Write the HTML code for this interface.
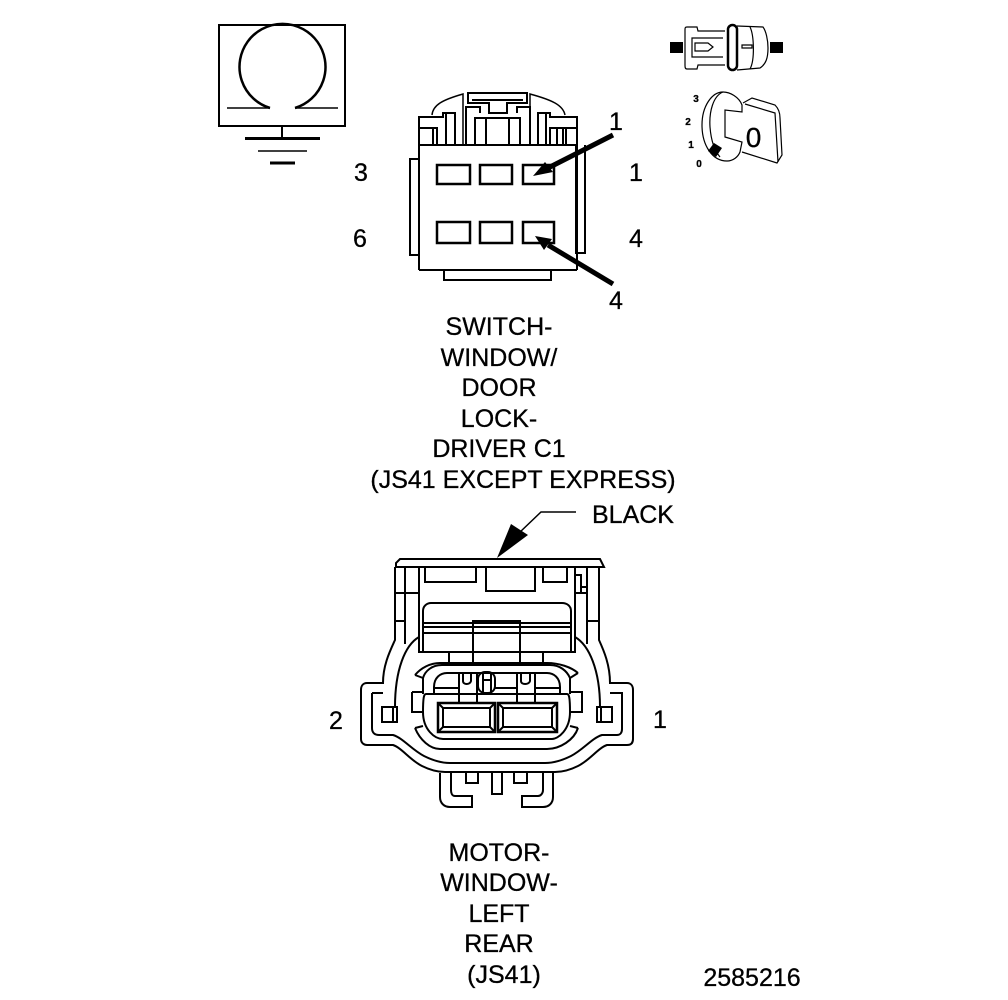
<!DOCTYPE html>
<html><head><meta charset="utf-8"><style>
html,body{margin:0;padding:0;background:#fff}
svg{display:block}
text{font-family:"Liberation Sans",sans-serif;fill:#000;stroke:#000;stroke-width:.3px}
</style></head><body>
<svg width="1008" height="1000" viewBox="0 0 1008 1000" xmlns="http://www.w3.org/2000/svg">
<rect width="1008" height="1000" fill="#fff"/>
<g fill="none" stroke="#000" stroke-width="2">
<!-- ground symbol -->
<rect x="219" y="25" width="126" height="101"/>
<path d="M270 108A43 43 0 1 1 295 108" stroke-width="2.500"/>
<path d="M227 108H270M295 108H338" stroke-width="1.500"/>
<path d="M282 126V138"/>
<path d="M245 138.500H320M270 163H295" stroke-width="3"/>
<path d="M258 151H307" stroke-width="1.500"/>

<!-- switch connector -->
<path d="M432 115C433 105 442 100 463 94V145M565 115C563 105 552 100 530 94V145" stroke-width="1.500"/>
<path d="M419 270V117H443V113H455V145M446 145V113M577 270V117H550V113H538V145M546 145V113"/>
<path d="M419 128H437V145M433 128V145M550 145V128H577M557 128V145M563 128V145M566 128V145"/>
<path d="M419 145H577"/>
<path d="M468 93H527V103H507V113H489V103H468ZM472 100H523M466 145V107H480V113M530 145V107H517V113"/>
<path d="M475 145V118H520V145M486 118V145M509 118V145"/>
<path d="M419 270H577M444 270V280H551V270M419 159H410V255H419M576 145V253H585V145"/>
<path d="M437 165H470V184H437ZM480 165H512V184H480ZM523 165H554V184H523ZM437 222H470V243H437ZM480 222H512V243H480ZM523 222H554V243H523Z" stroke-width="2.500"/>
</g>
<path d="M613 135L548 168" stroke="#000" stroke-width="5" fill="none"/>
<path d="M533 176L545 162L553 172Z" fill="#000"/>
<path d="M613 284L548 245" stroke="#000" stroke-width="5" fill="none"/>
<path d="M535 236L552 239L544 250Z" fill="#000"/>

<!-- key icons -->
<g fill="none" stroke="#000" stroke-width="1.200">
<path d="M725 31H698L697 27H687C685 27 685 28 685 30V65C685 67 685 69 687 69H697L698 65H725"/>
<path d="M723 38H692V57H723M695 43H708L713 47L708 51H695Z"/>
<path d="M737 26L763 27C766 31 768 40 768 48C768 58 766 64 760 68L737 70"/>
<path d="M742 45H752V48H742Z"/>
<path d="M750 27C754 35 755 60 750 69"/>
<rect x="728" y="25" width="9" height="45" rx="4.500" stroke-width="2.500"/>
<path d="M742 105C739 97 730 92 723 92C712 92 702 106 702 125C702 145 712 161 727 161C733 161 738 157 740 152L742 142L725 137V110L742 112Z"/>
<path d="M723 92C713 96 709 112 710 127C711 140 714 150 720 157"/>
<path d="M743 103L752 98L775 105C778 108 780 112 780 118L782 155L777 163L742 152"/>
<path d="M745 104L775 113L778 162"/>
</g>
<path d="M708 151L714 143L722 148L716 157Z" fill="#000"/>
<path d="M670 42H683V53H670ZM770 42H783V53H770Z" fill="#000"/>
<g font-size="10" font-weight="bold" text-anchor="middle">
<text x="696" y="102">3</text><text x="688" y="125">2</text><text x="691" y="148">1</text><text x="699" y="167">0</text>
</g>
<text x="753.500" y="147" font-size="28" text-anchor="middle">0</text>

<!-- labels -->
<g font-size="25" text-anchor="middle">
<text x="616" y="130">1</text><text x="361" y="181">3</text><text x="636" y="181">1</text>
<text x="360" y="247">6</text><text x="636" y="247">4</text><text x="616" y="309">4</text>
<text x="499" y="335">SWITCH-</text><text x="499" y="366">WINDOW/</text><text x="499" y="396">DOOR</text><text x="499" y="427">LOCK-</text><text x="499" y="457">DRIVER C1</text><text x="523" y="488">(JS41 EXCEPT EXPRESS)</text>
<text x="633" y="523">BLACK</text>
<text x="336" y="729">2</text><text x="660" y="728">1</text>
<text x="499" y="861">MOTOR-</text><text x="499" y="891">WINDOW-</text><text x="499" y="922">LEFT</text><text x="499" y="952">REAR</text><text x="504" y="983">(JS41)</text>
<text x="752" y="986">2585216</text>
</g>

<!-- black leader -->
<path d="M576 512H541L519 533" fill="none" stroke="#000" stroke-width="1.500"/>
<path d="M497 558L511 524L528 535Z" fill="#000"/>

<!-- motor connector -->
<g fill="none" stroke="#000" stroke-width="2">
<path d="M396 567V563L400 559H600L604 567H396"/>
<path d="M395 567V640C390 651 383 665 383 683H367C363 683 361 686 361 690V739C361 743 364 745 367 745H393C402 748 410 760 422 766C430 770 437 772 445 772H555C563 772 570 770 578 766C590 760 598 748 607 745H627C631 745 633 743 633 739V690C633 686 631 683 627 683H610C610 665 604 651 599 640V567"/>
<path d="M405 567V644M587 567V644"/>
<path d="M419 637C405 645 395 670 395 707M575 637C589 645 600 670 600 707"/>
<path d="M395 593H419M405 621H395M575 593H587M587 621H599M575 575H581V593M581 587H587"/>
<path d="M372 693H383M372 693V728C372 733 375 735 379 735H393C403 738 412 750 424 756C434 761 442 763 450 763H545C553 763 561 761 571 756C583 750 592 738 602 735H617C620 735 622 733 622 729V693H610"/>
<rect x="382" y="707" width="15" height="15"/>
<rect x="597" y="707" width="15" height="15"/>
<path d="M393 707V722M601 707V722"/>
<path d="M419 567V652H575V567"/>
<path d="M425 567V582H476V567M486 567V591H535V567M543 567V582H567V567"/>
<path d="M423 652V611C423 606 427 603 431 603H562C567 603 571 606 571 611V652"/>
<path d="M423 623H571M423 627H571M423 633H571"/>
<path d="M473 652V621H520V652"/>
<path d="M449 652V663M473 652V663M520 652V663M543 652V663"/>
<path d="M415 675C421 668 430 663 440 663H547C559 663 571 667 578 673"/>
<path d="M415 675L423 678M578 673L570 678M415 728L423 726M578 728L570 726"/>
<path d="M423 678C425 671 432 665 442 665H550C560 665 567 671 570 678M423 694V678M570 694V678"/>
<path d="M415 728C420 740 430 749 440 749H547C560 749 574 740 578 728"/>
<path d="M434 694V687C434 678 440 673 447 673H547C554 673 560 678 560 687V694"/>
<path d="M426 694H567C569 694 570 697 570 712C570 730 558 739 552 739H443C435 739 423 730 423 712C423 697 424 694 426 694Z"/>
<path d="M412 692H423M412 692V712H423M570 692H582V712H570"/>
<path d="M434 688H459M495 688H517M535 688H560M459 673V703M477 673V703M517 673V703M535 673V703"/>
<path d="M463 673V681C463 685 470 685 471 681V673M521 673V681C521 685 529 685 530 681V673"/>
<rect x="478" y="672" width="17" height="21" rx="7"/>
<path d="M483 672V693M491 672V693M483 680H491"/>
<rect x="438" y="703" width="57" height="29" stroke-width="2.500"/>
<rect x="498" y="703" width="59" height="29" stroke-width="2.500"/>
<rect x="443" y="708" width="47" height="19"/>
<rect x="503" y="708" width="49" height="19"/>
<path d="M438 703L443 708M495 703L490 708M438 732L443 727M495 732L490 727M498 703L503 708M557 703L552 708M498 732L503 727M557 732L552 727"/>
<path d="M440 773V797C440 803 444 807 450 807H472V796H455C452 796 451 793 451 790V773"/>
<path d="M553 773V797C553 803 549 807 543 807H522V796H538C541 796 543 793 543 790V773"/>
<path d="M466 773V783H478V773M514 773V783H527V773M492 773V794H502V773"/>
</g>
</svg>
</body></html>
